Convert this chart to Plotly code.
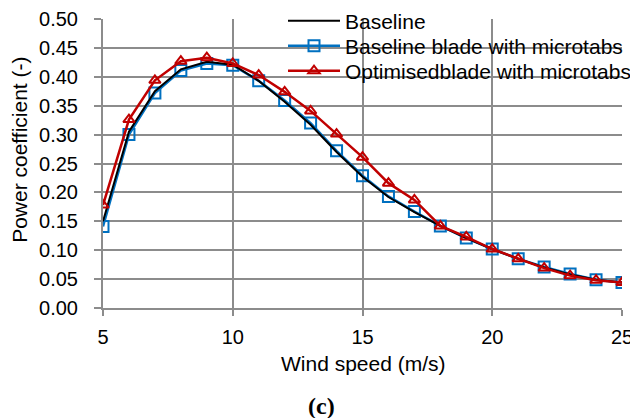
import plotly.graph_objects as go

wind_speed = [5, 6, 7, 8, 9, 10, 11, 12, 13, 14, 15, 16, 17, 18, 19, 20, 21, 22, 23, 24, 25]
baseline = [0.150, 0.305, 0.375, 0.413, 0.426, 0.421, 0.393, 0.357, 0.317, 0.270, 0.227, 0.192,
            0.166, 0.142, 0.121, 0.102, 0.085, 0.070, 0.058, 0.049, 0.044]
baseline_microtabs = [0.141, 0.300, 0.372, 0.411, 0.423, 0.420, 0.393, 0.359, 0.320, 0.272, 0.229, 0.193,
                      0.167, 0.142, 0.121, 0.102, 0.085, 0.071, 0.059, 0.049, 0.044]
optimised_microtabs = [0.178, 0.326, 0.394, 0.427, 0.433, 0.423, 0.403, 0.374, 0.341, 0.301, 0.261, 0.216,
                       0.187, 0.142, 0.123, 0.102, 0.085, 0.069, 0.056, 0.048, 0.044]
y_ticks = [0.00, 0.05, 0.10, 0.15, 0.20, 0.25, 0.30, 0.35, 0.40, 0.45, 0.50]
x_ticks = [5, 10, 15, 20, 25]

GRID = "#8c8c8c"
FONT = "Liberation Sans, Arial, sans-serif"
FS_TICK = 20
FS_TEXT = 21

# page body has an 8px margin: figure is drawn at (8, 8) in the window
OFF = 8
W, H = 638 - OFF, 418 - OFF
PL, PR, PT, PB = 103, 622, 19, 308.3          # plot area in window pixels
PW, PH = PR - PL, PB - PT


def px_x(sx):
    return (sx - PL) / PW


def px_y(sy):
    return (PB - sy) / PH


def cont_y(sy):
    return 1 - (sy - OFF) / H


fig = go.Figure()
fig.add_trace(go.Scatter(
    x=wind_speed, y=baseline_microtabs, name="Baseline blade with microtabs",
    mode="lines+markers", legend="legend2",
    line=dict(color="#0070C0", width=2.5),
    marker=dict(symbol="square-open", size=11, color="#0070C0", line=dict(width=2, color="#0070C0")),
))
fig.add_trace(go.Scatter(
    x=wind_speed, y=baseline, name="Baseline", mode="lines", legend="legend",
    line=dict(color="#000000", width=2),
))
fig.add_trace(go.Scatter(
    x=wind_speed, y=optimised_microtabs, name="Optimisedblade with microtabs",
    mode="lines+markers", legend="legend3",
    line=dict(color="#C00000", width=2.5),
    marker=dict(symbol="triangle-up-open", size=10, color="#C00000", line=dict(width=2, color="#C00000")),
))

leg_x = (283 - OFF) / W


def leg(sy):
    return dict(
        xref="container", yref="container",
        x=leg_x, y=cont_y(sy), xanchor="left", yanchor="middle",
        bgcolor="rgba(0,0,0,0)", borderwidth=0, font=dict(size=FS_TEXT, family=FONT, color="black"),
        itemwidth=52,
    )


fig.update_layout(
    width=W, height=H,
    margin=dict(l=PL - OFF, r=W - (PR - OFF), t=PT - OFF, b=H - (PB - OFF), autoexpand=False),
    paper_bgcolor="white", plot_bgcolor="white",
    font=dict(family=FONT, size=FS_TEXT, color="black"),
    showlegend=True,
    legend=leg(21), legend2=leg(46), legend3=leg(71),
    xaxis=dict(
        range=[5, 25], tickvals=x_ticks, ticktext=[str(v) for v in x_ticks],
        showgrid=True, gridcolor=GRID, gridwidth=2,
        showline=True, linecolor=GRID, linewidth=2,
        ticks="outside", ticklen=6, tickwidth=2, tickcolor=GRID,
        zeroline=False, tickfont=dict(size=FS_TICK), ticklabelstandoff=4,
    ),
    yaxis=dict(
        range=[0, 0.5], tickvals=y_ticks, ticktext=[f"{v:.2f}" for v in y_ticks],
        showgrid=True, gridcolor=GRID, gridwidth=2,
        showline=True, linecolor=GRID, linewidth=2,
        ticks="outside", ticklen=7, tickwidth=2, tickcolor=GRID,
        zeroline=False, tickfont=dict(size=FS_TICK), ticklabelstandoff=12,
    ),
    shapes=[
        # white legend box that hides the grid behind the legend
        dict(type="rect", xref="paper", yref="paper", layer="between",
             x0=px_x(280), x1=px_x(640), y0=px_y(85), y1=px_y(0),
             fillcolor="white", line=dict(width=0)),
    ],
    annotations=[
        dict(text="Wind speed (m/s)", xref="paper", yref="paper",
             x=px_x(363), y=px_y(364), xanchor="center", yanchor="middle",
             showarrow=False, font=dict(size=FS_TEXT, family=FONT)),
        dict(text="Power coefficient (-)", xref="paper", yref="paper",
             x=px_x(20), y=px_y(150), xanchor="center", yanchor="middle",
             textangle=-90, showarrow=False, font=dict(size=FS_TEXT, family=FONT)),
        dict(text="<b>(c)</b>", xref="paper", yref="paper",
             x=px_x(321), y=px_y(406), xanchor="center", yanchor="middle",
             showarrow=False, font=dict(size=24, family="Liberation Serif, Times New Roman, serif")),
    ],
)

fig.write_html("out.html")
